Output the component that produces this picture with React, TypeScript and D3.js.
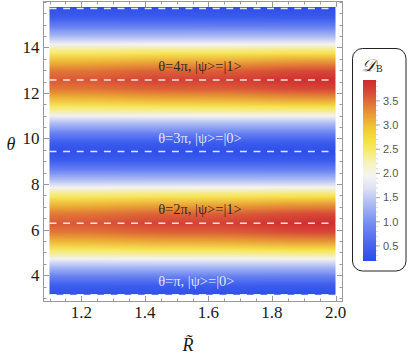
import React from "react";
import * as d3 from "d3";

// ---- data ----
const rDomain = [1.1, 2.0];
const thetaTopValue = 15.77; // top edge of the plotted field
const rTicksMajor = [1.2, 1.4, 1.6, 1.8, 2.0];
const thetaTicksMajor = [4, 6, 8, 10, 12, 14];
const legendTicks = [0.5, 1.0, 1.5, 2.0, 2.5, 3.0, 3.5];
const legendDomain = [0.19, 3.93];

// columns of the density field (R values) and sample angles (multiples of π)
const rColumns = [1.1, 1.55, 2.0];
const thetaSamplesPi = [1, 1.125, 1.25, 1.375, 1.5, 1.625, 1.75, 1.875, 2, 2.125, 2.25, 2.375, 2.5, 2.625, 2.75, 2.875, 3, 3.125, 3.25, 3.375, 3.5, 3.625, 3.75, 3.875, 4, 4.125, 4.25, 4.375, 4.5, 4.625, 4.75, 4.875, 5];
const dbAtR110 = [0.24, 0.42, 0.82, 1.30, 1.92, 2.52, 3.06, 3.42, 3.60, 3.42, 3.06, 2.52, 1.92, 1.30, 0.82, 0.42, 0.24, 0.42, 0.82, 1.30, 1.92, 2.52, 3.06, 3.42, 3.60, 3.42, 3.06, 2.52, 1.92, 1.30, 0.82, 0.42, 0.24];
const dbAtR155 = [0.23, 0.41, 0.81, 1.30, 1.95, 2.58, 3.16, 3.56, 3.75, 3.56, 3.16, 2.58, 1.95, 1.30, 0.81, 0.41, 0.23, 0.41, 0.81, 1.30, 1.95, 2.58, 3.16, 3.56, 3.75, 3.56, 3.16, 2.58, 1.95, 1.30, 0.81, 0.41, 0.23];
const dbAtR200 = [0.21, 0.39, 0.80, 1.30, 1.97, 2.64, 3.27, 3.70, 3.90, 3.70, 3.27, 2.64, 1.97, 1.30, 0.80, 0.39, 0.21, 0.39, 0.80, 1.30, 1.97, 2.64, 3.27, 3.70, 3.90, 3.70, 3.27, 2.64, 1.97, 1.30, 0.80, 0.39, 0.21];
const dbColumns = [dbAtR110, dbAtR155, dbAtR200];

// colour map (TemperatureMap-like)
const cmapValues = [0.19, 0.5, 1.0, 1.45, 1.7, 1.95, 2.2, 2.45, 2.7, 2.95, 3.2, 3.45, 3.7, 3.93];
const cmapColors = ["#2c4de8", "#4362f0", "#7890f2", "#b9c4f5", "#dfe2f6", "#f4f3f2", "#f7f3c0", "#f7ec70", "#f6e03c", "#f1c634", "#e99e36", "#e07236", "#d74638", "#cf2a2d"];

// dashed state lines (multiples of π) and labels
const stateLinesPi = [1, 2, 3, 4, 5];
const labelTexts = ["θ=π, |ψ>=|0>", "θ=2π, |ψ>=|1>", "θ=3π, |ψ>=|0>", "θ=4π, |ψ>=|1>"];
const labelPi = [1, 2, 3, 4];
const labelDark = [false, true, false, true];
const labelR = 1.442;

const SERIF = "'Liberation Serif', 'Times New Roman', serif";
const SANS = "'Liberation Sans', Arial, sans-serif";

export default function App() {
  const W = 409, H = 356;
  const x = d3.scaleLinear().domain(rDomain).range([49.5, 335.5]);
  const y = d3.scaleLinear().domain([Math.PI, 5 * Math.PI]).range([294.7, 8.5]);
  const color = d3.scaleLinear<string>().domain(cmapValues).range(cmapColors).interpolate(d3.interpolateRgb);

  const frame = { l: 43.5, r: 342.5, t: 1.5, b: 301.5 };
  const fieldTop = y(thetaTopValue);
  const fieldBottom = y(Math.PI);
  const fx0 = x(rDomain[0]);
  const fx1 = x(rDomain[1]);

  const colEdges = rColumns.map((r, i) => {
    const left = i === 0 ? fx0 - 80 : (x(rColumns[i - 1]) + x(r)) / 2;
    const right = i === rColumns.length - 1 ? fx1 + 80 : (x(r) + x(rColumns[i + 1])) / 2;
    return [left, right];
  });

  const xMinor = d3.range(1.1, 2.0001, 0.05);
  const yMinor = d3.range(3, 16.001, 0.5);
  const leg = d3.scaleLinear().domain(legendDomain).range([261, 80]);
  const legMinor = d3.range(0.2, 3.91, 0.1);
  const tickCol = "#9a9a9a";
  const serifStyle = { fontFamily: SERIF };

  return (
    <svg width={W} height={H} style={{ position: "absolute", left: 0, top: 0 }}>
      <defs>
        {dbColumns.map((col, i) => (
          <linearGradient key={i} id={`col${i}`} gradientUnits="userSpaceOnUse" x1={0} x2={0} y1={y(Math.PI)} y2={y(5 * Math.PI)}>
            {col.map((v, j) => (
              <stop key={j} offset={(thetaSamplesPi[j] - 1) / 4} stopColor={color(v)} />
            ))}
          </linearGradient>
        ))}
        <linearGradient id="legGrad" gradientUnits="userSpaceOnUse" x1={0} x2={0} y1={leg(legendDomain[0])} y2={leg(legendDomain[1])}>
          {cmapValues.map((v, j) => (
            <stop key={j} offset={(v - legendDomain[0]) / (legendDomain[1] - legendDomain[0])} stopColor={cmapColors[j]} />
          ))}
        </linearGradient>
        <filter id="hblur" x="-30%" y="0%" width="160%" height="100%" colorInterpolationFilters="sRGB">
          <feGaussianBlur stdDeviation="30 0" />
        </filter>
        <clipPath id="fieldClip">
          <rect x={fx0} y={fieldTop} width={fx1 - fx0} height={fieldBottom - fieldTop} />
        </clipPath>
      </defs>

      {/* density field */}
      <g clipPath="url(#fieldClip)">
        <g filter="url(#hblur)">
          {colEdges.map(([l, r], i) => (
            <rect key={i} x={l} y={fieldTop - 2} width={r - l + 0.5} height={fieldBottom - fieldTop + 4} fill={`url(#col${i})`} />
          ))}
        </g>
      </g>

      {/* dashed state lines */}
      {stateLinesPi.map((k) => (
        <line key={k} x1={fx0} x2={fx1} y1={y(k * Math.PI)} y2={y(k * Math.PI)} stroke="#ffffff" strokeOpacity={0.85} strokeWidth={1.5} strokeDasharray="7 6.6" />
      ))}

      {/* annotations */}
      {labelTexts.map((t, i) => (
        <text key={i} x={x(labelR)} y={y(labelPi[i] * Math.PI) - 9} style={serifStyle} fontSize={14.5}
          fill={labelDark[i] ? "#1e1a1a" : "#ffffff"} fillOpacity={labelDark[i] ? 0.92 : 0.85}>
          {t}
        </text>
      ))}

      {/* frame and ticks */}
      <rect x={frame.l} y={frame.t} width={frame.r - frame.l} height={frame.b - frame.t} fill="none" stroke={tickCol} strokeWidth={1} />
      {xMinor.map((v, i) => {
        const isMajor = rTicksMajor.some((m) => Math.abs(m - v) < 1e-6);
        const len = isMajor ? 5.5 : 3;
        const px = Math.round(x(v)) + 0.5;
        return (
          <g key={i}>
            <line x1={px} x2={px} y1={frame.b} y2={frame.b - len} stroke={tickCol} />
            <line x1={px} x2={px} y1={frame.t} y2={frame.t + len} stroke={tickCol} />
          </g>
        );
      })}
      {yMinor.map((v, i) => {
        const isMajor = thetaTicksMajor.some((m) => Math.abs(m - v) < 1e-6);
        const len = isMajor ? 5.5 : 3;
        const py = Math.round(y(v)) + 0.5;
        if (py < frame.t || py > frame.b) return null;
        return (
          <g key={i}>
            <line x1={frame.l} x2={frame.l + len} y1={py} y2={py} stroke={tickCol} />
            <line x1={frame.r} x2={frame.r - len} y1={py} y2={py} stroke={tickCol} />
          </g>
        );
      })}
      {rTicksMajor.map((v) => (
        <text key={v} x={x(v)} y={318} textAnchor="middle" style={serifStyle} fontSize={17} fill="#1a1a1a">
          {v.toFixed(1)}
        </text>
      ))}
      {thetaTicksMajor.map((v) => (
        <text key={v} x={39.5} y={y(v)} dy="0.35em" textAnchor="end" style={serifStyle} fontSize={17} fill="#1a1a1a">
          {v}
        </text>
      ))}
      <text x={11} y={144} dy="0.35em" textAnchor="middle" style={serifStyle} fontStyle="italic" fontSize={18} fill="#1a1a1a">θ</text>
      <text x={188} y={351} textAnchor="middle" style={serifStyle} fontStyle="italic" fontSize={18} fill="#1a1a1a">R̃</text>

      {/* legend */}
      <rect x={352.5} y={48.5} width={53.5} height={222.5} rx={10} ry={10} fill="#fff" stroke="#222" strokeWidth={1} />
      <text x={362} y={71} style={serifStyle} fontStyle="italic" fontSize={17} fill="#222">
        𝒟<tspan fontSize={10} fontStyle="normal" dy={1}>B</tspan>
      </text>
      <rect x={363} y={leg(legendDomain[1])} width={13} height={leg(legendDomain[0]) - leg(legendDomain[1])} fill="url(#legGrad)" />
      {legMinor.map((v, i) => (
        <line key={i} x1={376} x2={378} y1={leg(v)} y2={leg(v)} stroke="#bbb" strokeWidth={0.6} />
      ))}
      {legendTicks.map((v) => (
        <g key={v}>
          <line x1={376} x2={380} y1={leg(v)} y2={leg(v)} stroke="#999" strokeWidth={0.8} />
          <text x={383} y={leg(v)} dy="0.35em" style={{ fontFamily: SANS }} fontSize={11} fill="#555">
            {v.toFixed(1)}
          </text>
        </g>
      ))}
    </svg>
  );
}
